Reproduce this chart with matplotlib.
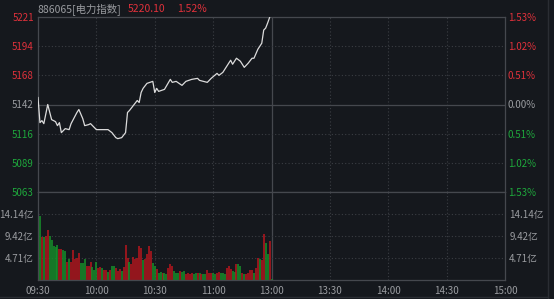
import numpy as np
import matplotlib.pyplot as plt
from matplotlib.lines import Line2D

plt.rcParams['font.family'] = ['Noto Sans CJK SC', 'DejaVu Sans']

# 分时数据 (minutes after 09:30, price)
price_minutes = [0, 1, 2, 3, 5, 7, 9, 10, 11, 12, 14, 16, 17, 20, 21, 23, 24, 26, 27, 29,
                 30, 33, 36, 38, 40, 41, 43, 45, 46, 47, 49, 51, 52, 53, 54, 56, 59, 60, 61, 62,
                 65, 68, 69, 71, 74, 76, 79, 82, 83, 85, 87, 89, 92, 93, 95, 98, 99, 100, 102, 104,
                 106, 108, 110, 111, 113, 115, 116, 117, 118, 119]
price_values = [5148.3, 5125.7, 5127.5, 5124.8, 5142.0, 5128.4, 5126.6, 5123.0, 5125.7, 5116.7,
                5120.3, 5119.4, 5124.8, 5134.8, 5137.5, 5129.3, 5123.0, 5123.9, 5124.8, 5121.2,
                5119.4, 5119.4, 5119.4, 5116.7, 5112.2, 5111.3, 5112.2, 5116.7, 5134.8, 5136.6,
                5141.1, 5145.6, 5143.8, 5152.8, 5156.5, 5161.0, 5162.8, 5152.8, 5156.5, 5153.8,
                5155.6, 5164.6, 5161.9, 5162.8, 5159.2, 5162.8, 5164.6, 5165.5, 5163.7, 5162.8,
                5161.9, 5165.5, 5170.0, 5168.2, 5170.9, 5179.1, 5181.8, 5178.2, 5183.6, 5180.9,
                5175.4, 5179.1, 5183.6, 5183.6, 5191.7, 5197.1, 5208.9, 5210.7, 5215.2, 5220.1]

# 成交额 (亿), one bar per minute, direction 1 = up (red), -1 = down (green)
volume = [18.7, 13.6, 9.3, 9.3, 9.5, 10.8, 9.5, 8.6, 7.3, 7.0,
          7.5, 6.6, 6.6, 6.4, 6.2, 3.8, 4.4, 3.8, 6.4, 4.5,
          4.8, 5.7, 3.7, 3.7, 4.5, 3.1, 3.1, 3.8, 2.8, 2.2,
          3.8, 2.6, 2.8, 2.6, 2.2, 2.2, 1.8, 2.2, 2.9, 3.0,
          2.6, 2.0, 2.4, 2.0, 2.7, 7.5, 4.8, 3.9, 3.4, 4.9,
          4.6, 4.8, 7.3, 6.8, 4.3, 4.5, 5.5, 7.3, 6.3, 3.7,
          3.1, 2.4, 1.5, 1.7, 1.5, 1.6, 1.3, 2.6, 3.5, 3.0,
          1.9, 1.5, 1.4, 1.9, 1.8, 1.9, 1.3, 1.4, 1.25, 1.4,
          1.25, 1.4, 1.6, 1.4, 1.25, 1.25, 1.3, 2.2, 1.6, 1.4,
          1.4, 1.3, 1.6, 1.7, 1.6, 1.4, 1.2, 2.6, 3.1, 2.4,
          1.9, 1.7, 3.5, 3.4, 3.0, 1.5, 1.25, 1.25, 1.6, 2.2,
          2.2, 1.6, 2.6, 4.8, 4.6, 4.3, 9.9, 7.9, 5.5, 8.3,
          0.3]
direction = [-1, -1, 1, -1, 1, 1, -1, -1, -1, -1,
             -1, 1, 1, -1, -1, 1, -1, 1, 1, 1,
             1, 1, -1, -1, -1, 1, 1, 1, -1, -1,
             -1, 1, 1, -1, 1, 1, -1, 1, -1, -1,
             1, 1, 1, -1, 1, 1, 1, -1, 1, 1,
             1, 1, 1, 1, -1, 1, 1, 1, 1, -1,
             -1, 1, -1, -1, 1, -1, -1, 1, 1, 1,
             -1, -1, -1, 1, -1, -1, 1, 1, 1, 1,
             -1, -1, 1, -1, 1, -1, -1, 1, 1, 1,
             -1, -1, 1, 1, -1, -1, -1, 1, 1, 1,
             -1, -1, 1, -1, -1, 1, -1, 1, 1, 1,
             1, -1, 1, 1, -1, 1, 1, -1, -1, 1,
             -1]

prev_close = 5142.0
last_price = "5220.10"
last_pct = "1.52%"
code_name = "886065[电力指数]"

price_labels = ["5063", "5089", "5116", "5142", "5168", "5194", "5221"]
pct_labels = ["1.53%", "1.02%", "0.51%", "0.00%", "0.51%", "1.02%", "1.53%"]
vol_ticks = [4.71, 9.42, 14.14]
vol_labels = ["4.71亿", "9.42亿", "14.14亿"]
time_labels = ["09:30", "10:00", "10:30", "11:00", "13:00", "13:30", "14:00", "14:30", "15:00"]

BG = "#15181d"
GRID = "#3b3e44"
FRAME = "#45484e"
RED_TXT = "#e0313b"
GREEN_TXT = "#1ea83c"
GRAY_TXT = "#9a9ca0"
RED_BAR = "#b3161d"
GREEN_BAR = "#16902a"

W, H = 554, 299
fig = plt.figure(figsize=(W / 100, H / 100), dpi=100, facecolor=BG)

def box(x0, y0, x1, y1):
    return [x0 / W, 1 - y1 / H, (x1 - x0) / W, (y1 - y0) / H]

ax = fig.add_axes(box(38, 17, 505, 192), facecolor=BG)
axv = fig.add_axes(box(38, 192, 505, 280), facecolor=BG)

step = prev_close * 0.0051
price_ticks = [prev_close + k * step for k in range(-3, 4)]
ylim = (prev_close * (1 - 0.0153), prev_close * (1 + 0.0153))
xticks = np.arange(0, 241, 30)

for a in (ax, axv):
    a.set_xlim(0, 240)
    a.set_xticks(xticks)
    for s in a.spines.values():
        s.set_color(FRAME)
        s.set_linewidth(0.9)
    a.tick_params(length=0, labelsize=7)
    for t in xticks[1:-1]:
        if t == 120:
            a.axvline(t, color=FRAME, lw=0.9, zorder=1)
        else:
            a.axvline(t, color=GRID, lw=0.8, ls=(0, (1, 2)), zorder=1)

# price panel
ax.plot(price_minutes, price_values, color="#dcdcdc", lw=0.9, zorder=3)
ax.set_ylim(*ylim)
ax.set_yticks(price_ticks)
ax.set_yticklabels(price_labels)
ax.set_xticklabels([])
for t in price_ticks:
    if abs(t - prev_close) < 1e-6:
        ax.axhline(t, color=FRAME, lw=0.9, zorder=1)
    elif ylim[0] < t < ylim[1] - 1:
        ax.axhline(t, color=GRID, lw=0.8, ls=(0, (1, 2)), zorder=1)

axr = ax.twinx()
axr.set_ylim(*ylim)
axr.set_yticks(price_ticks)
axr.set_yticklabels(pct_labels)
axr.tick_params(length=0, labelsize=7, pad=2)
for s in axr.spines.values():
    s.set_visible(False)

def label_colors(labels):
    for i, lab in enumerate(labels):
        if i < 3:
            lab.set_color(GREEN_TXT)
        elif i == 3:
            lab.set_color(GRAY_TXT)
        else:
            lab.set_color(RED_TXT)

label_colors(ax.get_yticklabels())
label_colors(axr.get_yticklabels())
ax.tick_params(axis='y', pad=3)

# volume panel
xs = np.arange(len(volume))
colors = [RED_BAR if d > 0 else GREEN_BAR for d in direction]
axv.vlines(xs, 0, volume, colors=colors, linewidth=1.15, zorder=2)
axv.set_ylim(0, 4 * 4.71)
axv.set_yticks(vol_ticks)
axv.set_yticklabels(vol_labels, color=GRAY_TXT)
axv.tick_params(axis='y', labelright=True, pad=3)
axv.set_xticklabels(time_labels, color=GRAY_TXT)
axv.tick_params(axis='x', pad=4)
for t in vol_ticks:
    axv.axhline(t, color=GRID, lw=0.8, ls=(0, (1, 2)), zorder=1)

# title line
fig.text(38 / W, 1 - 9 / H, code_name, color=GRAY_TXT, fontsize=7.5, va='center', ha='left')
fig.text(128 / W, 1 - 9 / H, last_price, color=RED_TXT, fontsize=7.5, va='center', ha='left')
fig.text(177 / W, 1 - 9 / H, last_pct, color=RED_TXT, fontsize=7.5, va='center', ha='left')

# outer frame
fig.add_artist(Line2D([548 / W, 548 / W], [0, 1], color="#2a2d33", lw=1))
fig.add_artist(Line2D([0, 548 / W], [1 - 297 / H, 1 - 297 / H], color="#2a2d33", lw=1))

fig.savefig("out.png", dpi=100, facecolor=BG)
